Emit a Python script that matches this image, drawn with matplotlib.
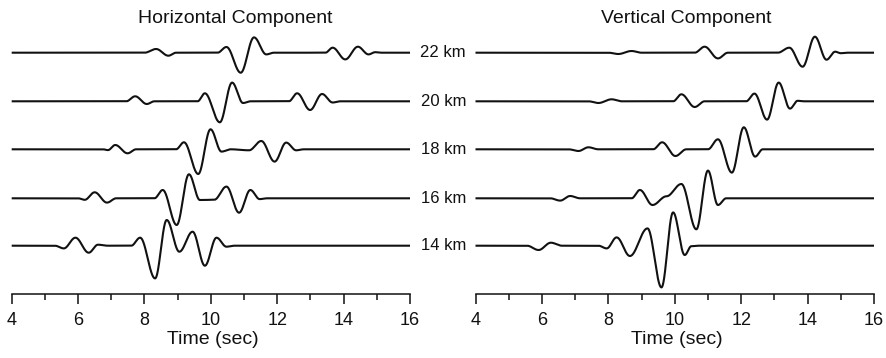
import numpy as np
import matplotlib
matplotlib.use("Agg")
import matplotlib.pyplot as plt

plt.rcParams['font.family'] = ['Liberation Sans', 'DejaVu Sans']

# Epicentral distances (km), bottom to top
distances = [14, 16, 18, 20, 22]

# Waveform knots per trace: times (s) and amplitudes (relative units)
# Horizontal component
H14_t = [5.30, 5.57, 5.92, 6.32, 6.60, 6.90, 7.60, 7.87, 8.32, 8.67, 9.05, 9.45, 9.82, 10.17, 10.47, 10.70]
H14_a = [0, -2.7, 8.0, -7.0, 1.0, 0, 0, 8.0, -32.7, 25.7, -6.0, 14.0, -20.0, 8.0, -1.0, 0]
H16_t = [6.00, 6.20, 6.50, 6.87, 7.15, 8.30, 8.55, 8.97, 9.34, 9.67, 10.10, 10.47, 10.85, 11.19, 11.47, 11.70]
H16_a = [0, -1.5, 6.0, -4.3, 0, 0, 8.3, -26.7, 24.0, -1.7, -1.5, 11.7, -14.4, 8.3, -0.8, 0]
H18_t = [6.75, 6.90, 7.12, 7.49, 7.75, 8.95, 9.19, 9.62, 9.99, 10.32, 10.60, 11.15, 11.52, 11.92, 12.27, 12.57, 12.80]
H18_a = [0, -0.8, 4.3, -4.0, 0, 0, 7.0, -24.7, 20.0, -2.3, 0, -1.0, 8.3, -12.3, 6.7, -1.0, 0]
H20_t = [7.45, 7.72, 8.07, 8.30, 9.60, 9.82, 10.27, 10.64, 10.97, 11.20, 12.35, 12.60, 12.99, 13.35, 13.67, 13.90]
H20_a = [0, 5.0, -2.7, 0, 0, 8.0, -21.0, 18.7, -1.7, 0, 0, 8.0, -8.7, 7.3, -1.2, 0]
H22_t = [8.00, 8.35, 8.72, 8.95, 10.20, 10.47, 10.90, 11.30, 11.67, 11.90, 13.45, 13.67, 14.05, 14.43, 14.75, 14.95, 15.15]
H22_a = [0, 3.7, -3.0, 0, 0, 5.7, -20.0, 15.3, -1.7, 0, 0, 5.0, -6.7, 6.0, -1.7, 0.5, 0]

# Vertical component
V14_t = [5.55, 5.90, 6.27, 6.60, 7.70, 7.95, 8.25, 8.65, 9.18, 9.60, 9.95, 10.30, 10.50, 10.70]
V14_a = [0, -4.3, 3.0, 0, 0, -2.7, 8.3, -10.3, 17.3, -41.7, 33.3, -9.3, -0.5, 0]
V16_t = [6.25, 6.55, 6.85, 7.15, 8.70, 8.95, 9.33, 9.75, 10.20, 10.65, 11.00, 11.30, 11.55]
V16_a = [0, -2.3, 2.3, 0, 0, 8.3, -6.7, 2.0, 14.3, -31.0, 27.7, -6.7, 0]
V18_t = [6.80, 7.10, 7.40, 7.70, 9.35, 9.62, 10.02, 10.35, 11.00, 11.30, 11.72, 12.08, 12.42, 12.65]
V18_a = [0, -1.7, 2.0, 0, 0, 7.0, -6.7, 0, 0, 10.0, -23.3, 22.0, -7.3, 0]
V20_t = [7.40, 7.70, 8.10, 8.40, 9.95, 10.20, 10.60, 10.90, 12.15, 12.40, 12.78, 13.13, 13.47, 13.70, 13.90]
V20_a = [0, -1.7, 2.0, 0, 0, 7.0, -5.7, 0, 0, 7.7, -18.3, 18.7, -7.3, 0.5, 0]
V22_t = [8.00, 8.30, 8.70, 9.00, 10.60, 10.90, 11.30, 11.60, 13.10, 13.45, 13.85, 14.22, 14.57, 14.83, 15.00, 15.20]
V22_a = [0, -1.3, 1.7, 0, 0, 6.0, -5.7, 0, 0, 5.0, -14.0, 16.0, -7.0, 1.0, -0.5, 0]

horizontal = [(H14_t, H14_a), (H16_t, H16_a), (H18_t, H18_a), (H20_t, H20_a), (H22_t, H22_a)]
vertical = [(V14_t, V14_a), (V16_t, V16_a), (V18_t, V18_a), (V20_t, V20_a), (V22_t, V22_a)]

x_ticks = [4, 6, 8, 10, 12, 14, 16]

W, H = 886, 358
T0, T1 = 4.0, 16.0


def trace_curve(kt, ka, n=4000):
    """Smooth trace through the knots with flat tangents at every knot."""
    kt = [T0] + list(kt) + [T1]
    ka = [0.0] + list(ka) + [0.0]
    t = np.linspace(T0, T1, n)
    y = np.zeros_like(t)
    for i in range(len(kt) - 1):
        a, b = kt[i], kt[i + 1]
        m = (t >= a) & (t <= b)
        s = (t[m] - a) / (b - a)
        y[m] = ka[i] + (ka[i + 1] - ka[i]) * (1 - np.cos(np.pi * s)) / 2
    return t, y


fig = plt.figure(figsize=(W / 100, H / 100), dpi=100)

y_spine = 294.3
y_top = 20.0
baselines_px = [245.7, 198.3, 149.3, 101.3, 52.7]


def make_axes(x4, x16):
    ax = fig.add_axes([x4 / W, (H - y_spine) / H, (x16 - x4) / W, (y_spine - y_top) / H])
    ax.set_xlim(T0, T1)
    ax.set_ylim(0, y_spine - y_top)
    for side in ('top', 'left', 'right'):
        ax.spines[side].set_visible(False)
    ax.spines['bottom'].set_linewidth(1.1)
    ax.spines['bottom'].set_color('#111111')
    ax.set_yticks([])
    ax.set_xticks(x_ticks)
    ax.set_xticks(np.arange(5, 16, 2), minor=True)
    ax.tick_params(axis='x', which='major', direction='out', length=7.2, width=1.1,
                   pad=5.5, labelsize=13, colors='#111111')
    ax.tick_params(axis='x', which='minor', direction='out', length=4.3, width=1.1,
                   colors='#111111')
    ax.patch.set_visible(False)
    return ax


axL = make_axes(11.7, 410.0)
axR = make_axes(475.5, 874.0)

for ax, traces in ((axL, horizontal), (axR, vertical)):
    for (kt, ka), by in zip(traces, baselines_px):
        t, y = trace_curve(kt, ka)
        ax.plot(t, y + (y_spine - by), color='#111111', lw=1.5, clip_on=False,
                solid_capstyle='butt')

# Panel titles
fig.text(235 / W, (H - 23) / H, 'Horizontal Component', ha='center', va='baseline',
         fontsize=14, color='#111111')
fig.text(686 / W, (H - 23) / H, 'Vertical Component', ha='center', va='baseline',
         fontsize=14, color='#111111')

# Axis labels
fig.text(212.5 / W, (H - 344) / H, 'Time (sec)', ha='center', va='baseline',
         fontsize=14, color='#111111')
fig.text(676.8 / W, (H - 344) / H, 'Time (sec)', ha='center', va='baseline',
         fontsize=14, color='#111111')

# Distance labels between panels
for d, by in zip(distances, baselines_px):
    fig.text(443.3 / W, (H - by) / H, f'{d} km', ha='center', va='center',
             fontsize=12, color='#111111')

fig.savefig('out.png', dpi=100)
